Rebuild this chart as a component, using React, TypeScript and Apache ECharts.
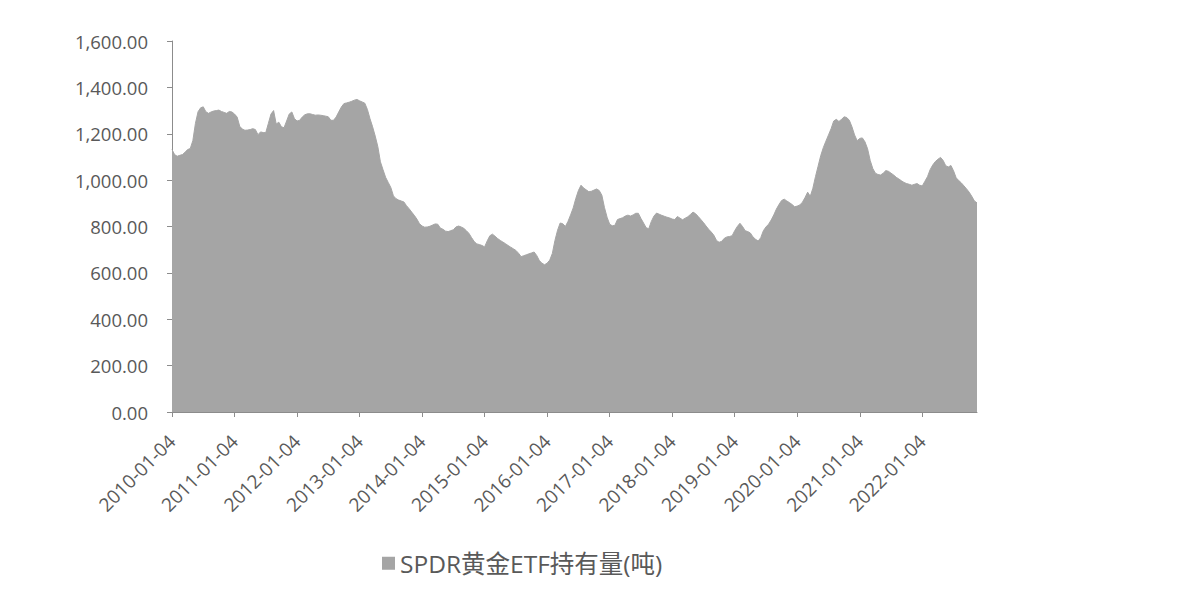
import React, { useEffect, useRef } from "react";
import * as echarts from "echarts";

// Semi-monthly readings (tons), on the 4th and 18th of each month
const v2010 = [1132, 1110, 1103, 1107, 1110, 1120, 1132, 1136, 1170, 1245, 1295, 1312, 1316, 1295, 1288, 1294, 1298, 1300, 1302, 1296, 1292, 1288, 1296, 1294];
const v2011 = [1285, 1272, 1232, 1220, 1215, 1216, 1218, 1222, 1218, 1196, 1208, 1205, 1205, 1245, 1285, 1300, 1242, 1250, 1230, 1226, 1255, 1285, 1294, 1265];
const v2012 = [1255, 1258, 1272, 1282, 1286, 1286, 1283, 1280, 1281, 1280, 1278, 1276, 1273, 1258, 1258, 1272, 1294, 1315, 1330, 1333, 1336, 1340, 1345, 1348];
const v2013 = [1342, 1337, 1332, 1305, 1265, 1230, 1190, 1145, 1079, 1045, 1012, 990, 968, 932, 920, 914, 910, 906, 890, 877, 862, 848, 832, 812];
const v2014 = [802, 797, 798, 801, 806, 811, 810, 793, 788, 780, 778, 782, 786, 798, 802, 798, 792, 782, 770, 752, 735, 725, 722, 718];
const v2015 = [712, 738, 760, 767, 758, 748, 740, 733, 726, 718, 711, 704, 697, 685, 670, 674, 678, 682, 686, 690, 675, 653, 642, 635];
const v2016 = [642, 655, 684, 740, 784, 815, 812, 800, 822, 850, 880, 921, 955, 978, 966, 958, 950, 952, 957, 962, 955, 935, 882, 840];
const v2017 = [810, 803, 805, 830, 834, 838, 845, 849, 845, 850, 857, 857, 835, 815, 795, 790, 822, 845, 858, 853, 848, 844, 840, 837];
const v2018 = [832, 830, 843, 836, 829, 836, 842, 852, 862, 855, 843, 830, 817, 802, 788, 776, 762, 740, 732, 736, 749, 755, 757, 760];
const v2019 = [782, 800, 814, 800, 782, 778, 772, 755, 745, 737, 752, 782, 798, 810, 828, 850, 875, 895, 912, 918, 910, 903, 895, 885];
const v2020 = [888, 893, 905, 925, 948, 930, 965, 1015, 1060, 1105, 1140, 1168, 1195, 1222, 1255, 1262, 1253, 1262, 1273, 1270, 1258, 1230, 1195, 1170];
const v2021 = [1180, 1182, 1165, 1135, 1085, 1050, 1030, 1024, 1022, 1030, 1041, 1038, 1030, 1022, 1012, 1005, 997, 990, 985, 982, 978, 982, 985, 978];
const v2022 = [975, 995, 1015, 1045, 1065, 1080, 1090, 1098, 1085, 1062, 1057, 1063, 1040, 1010, 998, 988, 975, 962, 948, 930, 910, 902];

const yearLists = [v2010, v2011, v2012, v2013, v2014, v2015, v2016, v2017, v2018, v2019, v2020, v2021, v2022];
const years = [2010, 2011, 2012, 2013, 2014, 2015, 2016, 2017, 2018, 2019, 2020, 2021, 2022];
const months = ["01", "02", "03", "04", "05", "06", "07", "08", "09", "10", "11", "12"];
const days = ["04", "18"];
const seriesName = "SPDR黄金ETF持有量(吨)";

const categories: string[] = [];
const values: number[] = [];
years.forEach((y, yi) => {
  const list = yearLists[yi];
  let k = 0;
  months.forEach((m) => {
    days.forEach((d) => {
      if (k < list.length) {
        categories.push(`${y}-${m}-${d}`);
        values.push(list[k]);
      }
      k++;
    });
  });
});

const isYearStart = (_i: number, v: string) => v.endsWith("-01-04");

export default function App() {
  const ref = useRef<HTMLDivElement>(null);
  useEffect(() => {
    if (!ref.current) return;
    const chart = echarts.init(ref.current, undefined, { renderer: "svg" });
    const axisGray = "#8c8c8c";
    const textGray = "#595959";
    chart.setOption({
      animation: false,
      backgroundColor: "#ffffff",
      grid: { left: 172, right: 200, top: 41, bottom: 193, containLabel: false },
      legend: {
        data: [seriesName],
        left: 377,
        top: 546,
        icon: "rect",
        itemWidth: 13,
        itemHeight: 13,
        itemGap: 10,
        textStyle: { color: textGray, fontSize: 24.5, fontFamily: "'Open Sans', 'Noto Sans CJK SC', sans-serif" },
      },
      xAxis: {
        type: "category",
        data: categories,
        boundaryGap: false,
        axisLine: { lineStyle: { color: axisGray, width: 1 } },
        axisTick: { show: true, interval: isYearStart, length: 5, lineStyle: { color: axisGray } },
        axisLabel: {
          interval: isYearStart,
          rotate: 45,
          margin: 26,
          color: textGray,
          fontSize: 19,
          fontFamily: "'Open Sans', sans-serif",
        },
        splitLine: { show: false },
      },
      yAxis: {
        type: "value",
        min: 0,
        max: 1600,
        interval: 200,
        axisLine: { show: true, lineStyle: { color: axisGray, width: 1 } },
        axisTick: { show: true, length: 5, lineStyle: { color: axisGray } },
        axisLabel: {
          margin: 24,
          color: textGray,
          fontSize: 18.5,
          fontFamily: "'Open Sans', sans-serif",
          formatter: (v: number) =>
            v.toLocaleString("en-US", { minimumFractionDigits: 2, maximumFractionDigits: 2 }),
        },
        splitLine: { show: false },
      },
      series: [
        {
          name: seriesName,
          type: "line",
          data: values,
          showSymbol: false,
          symbol: "none",
          itemStyle: { color: "#a5a5a5" },
          lineStyle: { color: "#a5a5a5", width: 1 },
          areaStyle: { color: "#a5a5a5", opacity: 1 },
        },
      ],
    });
    return () => chart.dispose();
  }, []);
  return (
    <div
      ref={ref}
      style={{ position: "fixed", left: 0, top: 0, width: 1177, height: 605, background: "#fff" }}
    />
  );
}
